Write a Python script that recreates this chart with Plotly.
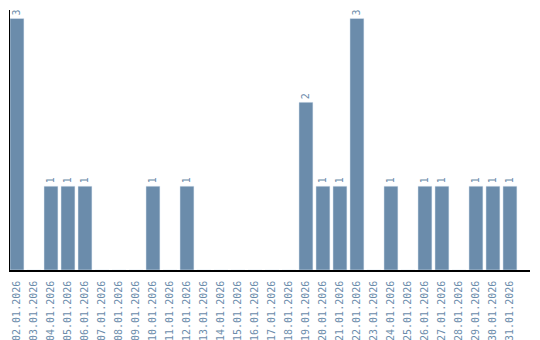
import plotly.graph_objects as go

dates = ["02.01.2026","03.01.2026","04.01.2026","05.01.2026","06.01.2026","07.01.2026",
         "08.01.2026","09.01.2026","10.01.2026","11.01.2026","12.01.2026","13.01.2026",
         "14.01.2026","15.01.2026","16.01.2026","17.01.2026","18.01.2026","19.01.2026",
         "20.01.2026","21.01.2026","22.01.2026","23.01.2026","24.01.2026","25.01.2026",
         "26.01.2026","27.01.2026","28.01.2026","29.01.2026","30.01.2026","31.01.2026"]
counts = [3,0,1,1,1,0,0,0,1,0,1,0,0,0,0,0,0,2,1,1,3,0,1,0,1,1,0,1,1,1]

color = "#6b8cab"
labels = [str(v) if v > 0 else "" for v in counts]
FONT = "DejaVu Sans Mono"

fig = go.Figure(go.Bar(
    x=dates, y=counts, marker_color=color, text=labels,
    textposition="outside", textangle=-90, cliponaxis=False,
    textfont=dict(family=FONT, size=10, color=color),
))
fig.update_layout(
    width=540, height=340, margin=dict(l=10, r=10, t=10, b=70, autoexpand=False),
    paper_bgcolor="white", plot_bgcolor="white", showlegend=False, bargap=0.18,
    font=dict(family=FONT, size=10, color=color),
)
fig.update_xaxes(type="category", range=[-0.41, 30.18], tickangle=-90, showline=True,
                 linecolor="black", linewidth=1.5, ticks="", showgrid=False, automargin=False,
                 ticklabelstandoff=5,
                 tickfont=dict(family=FONT, size=10, color=color))
fig.update_yaxes(range=[0, 3.1], showline=True, linecolor="black", linewidth=1,
                 showticklabels=False, ticks="", showgrid=False, zeroline=False,
                 automargin=False)
fig.write_html("out.html")
